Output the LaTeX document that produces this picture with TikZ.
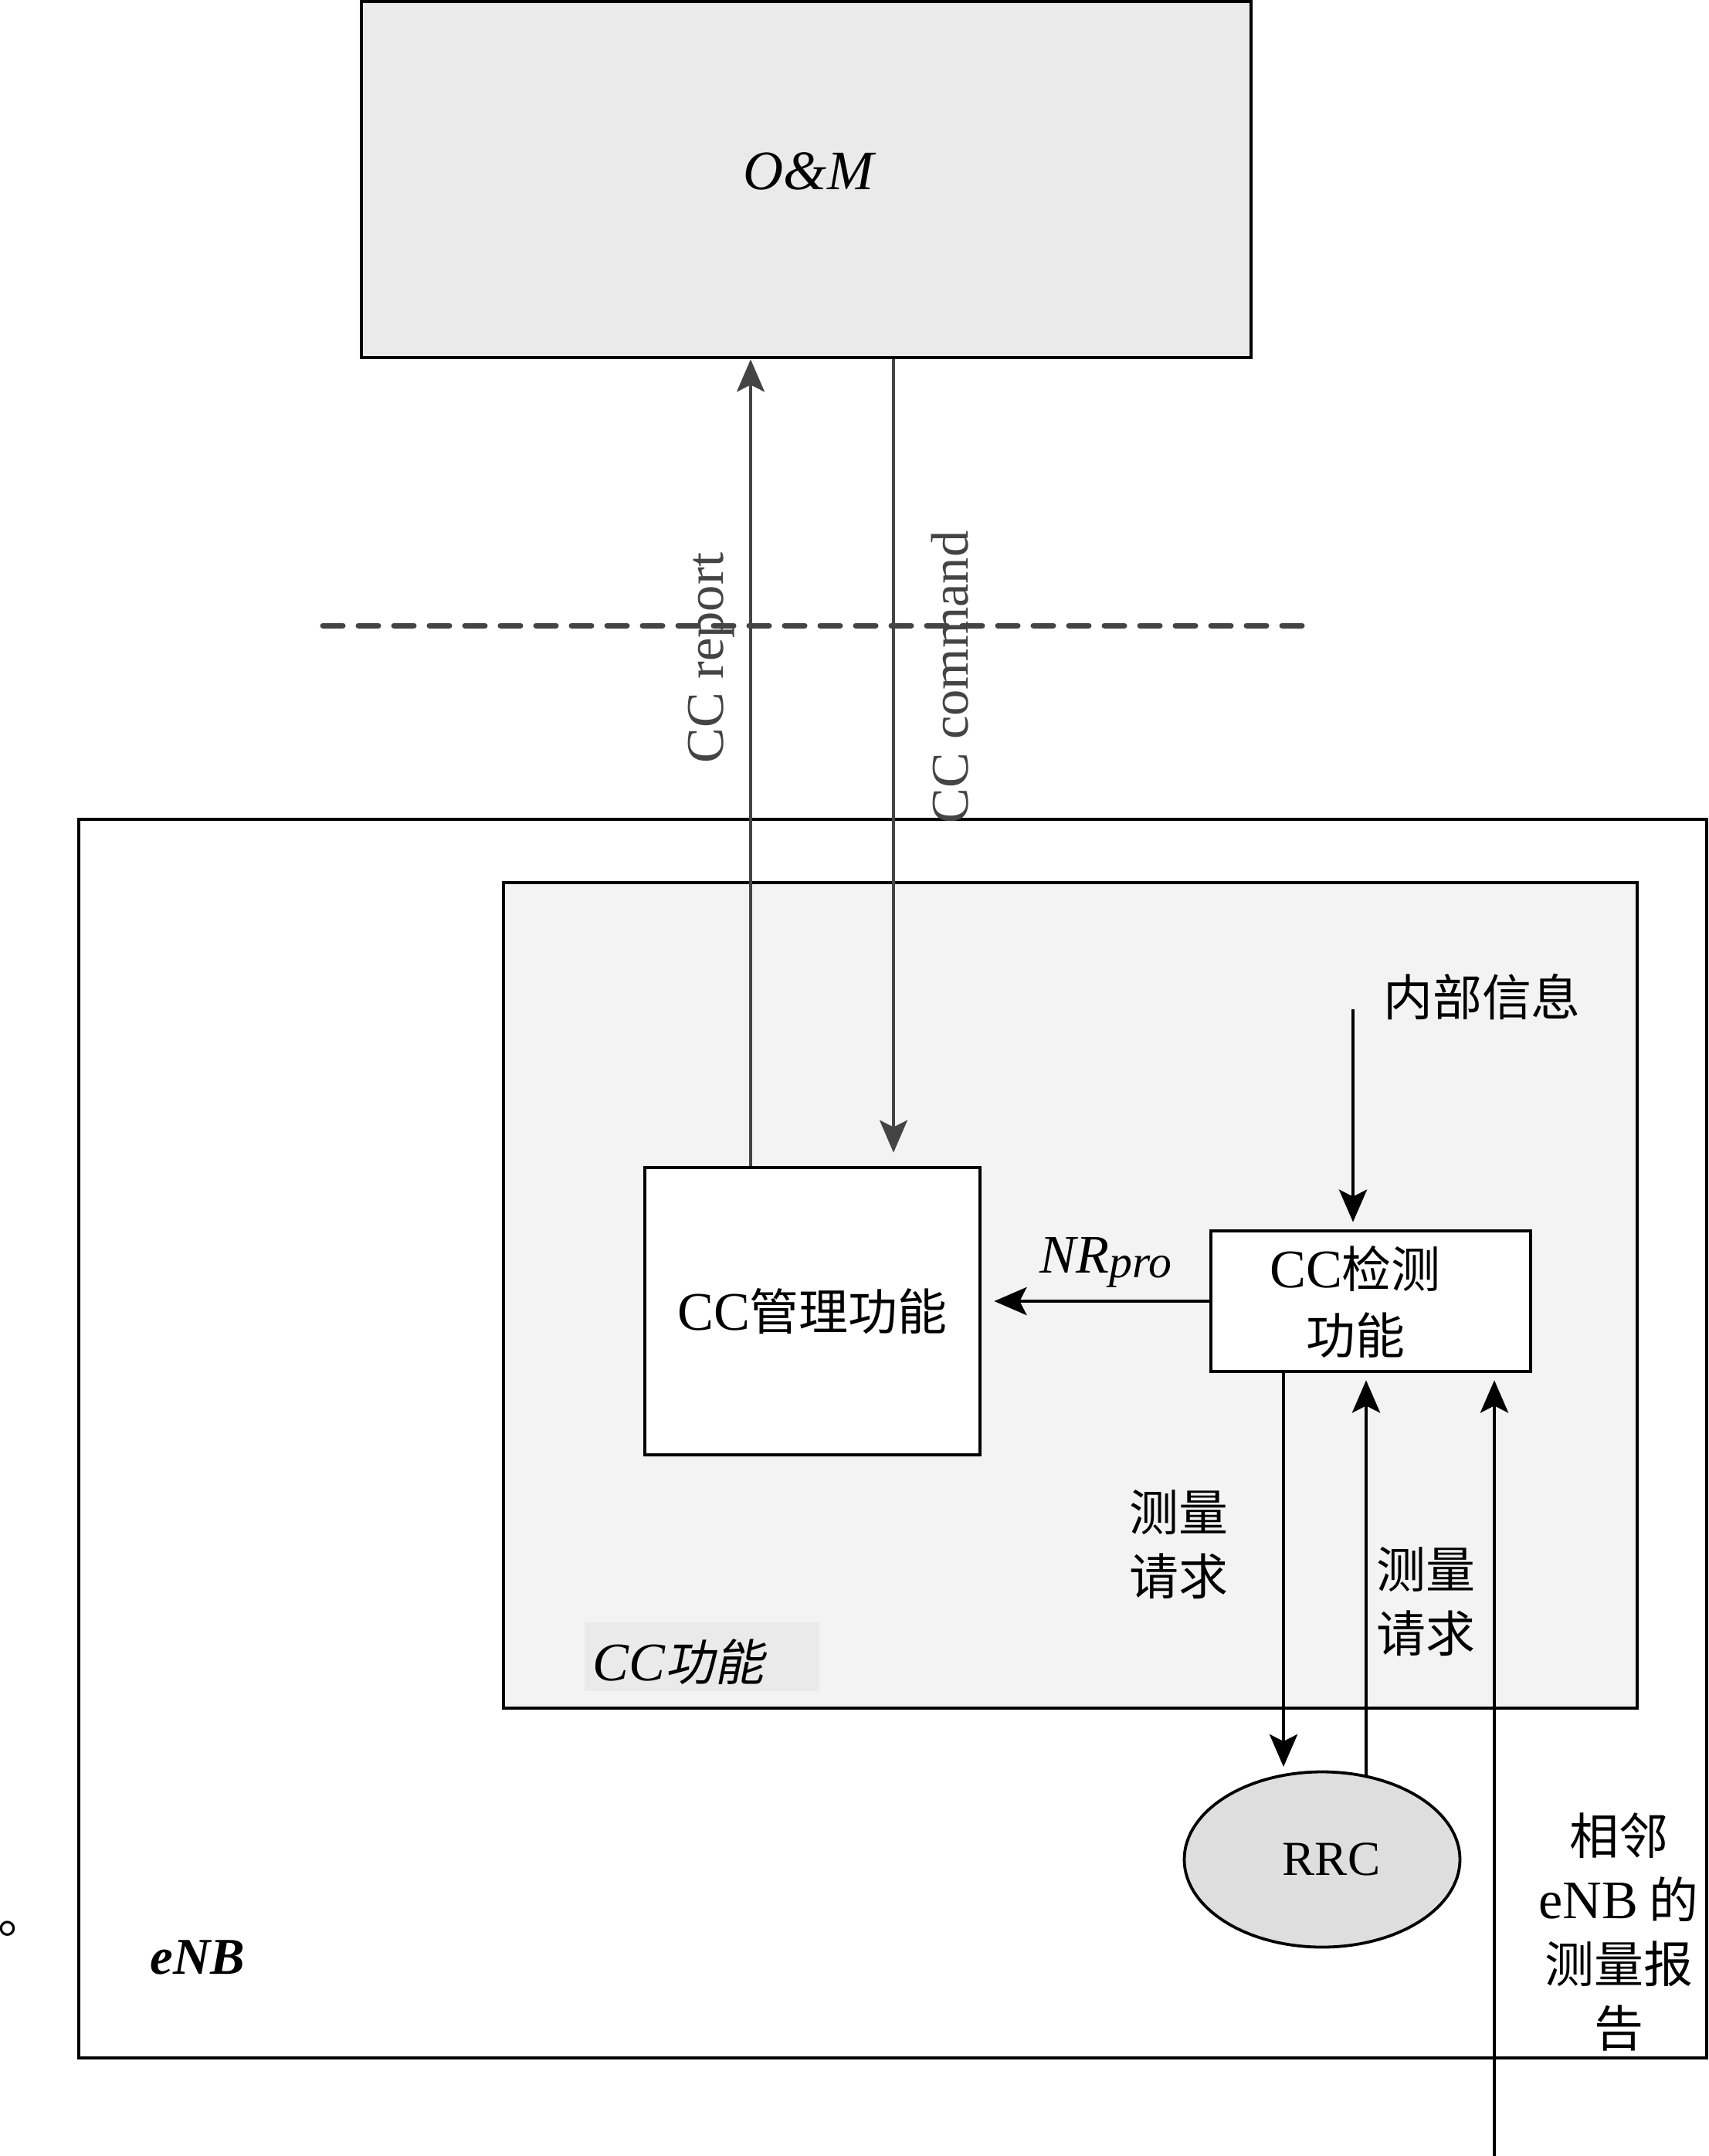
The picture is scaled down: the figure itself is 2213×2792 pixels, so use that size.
\documentclass[tikz,border=0pt]{standalone}
\usepackage{fontspec}
\setmainfont{Liberation Serif}
\newfontfamily\cjk{Noto Sans CJK SC}
\newfontfamily\cjkit{Noto Sans CJK SC}[FakeSlant=0.2]
\usetikzlibrary{arrows.meta,shapes.geometric}
\definecolor{omgray}{HTML}{EAEAEA}
\definecolor{ccgray}{HTML}{F3F3F3}
\definecolor{labgray}{HTML}{EAEAEA}
\definecolor{rrcgray}{HTML}{DEDEDE}
\definecolor{linegray}{HTML}{444444}
\newcommand\zhtxt[1]{{\cjk\fontsize{18.2pt}{23.6pt}\selectfont #1}}
\newcommand\zhit[1]{{\cjkit\fontsize{18.2pt}{23.6pt}\selectfont #1}}
\begin{document}
\begin{tikzpicture}[x=0.1mm,y=-0.1mm,
  font=\fontsize{20pt}{24pt}\selectfont,
  box/.style={draw, line width=0.48mm, inner sep=0pt},
  arr/.style={-{Stealth[length=4.2mm,width=3.6mm,inset=0.9mm]}, line width=0.48mm},
  garr/.style={arr, draw=linegray, line width=0.35mm},
  dashline/.style={draw=linegray, line width=0.7mm, line cap=round, dash pattern=on 2.6mm off 2mm},
  zhml/.style={align=center, font=\cjk\fontsize{18.2pt}{23.6pt}\selectfont},
  rotlab/.style={rotate=90, anchor=base, text=linegray, font=\fontsize{19.5pt}{24pt}\selectfont}
]
\useasboundingbox (0,0) rectangle (2213,2792);
% boxes
\node[box, fill=white, minimum width=210.8mm, minimum height=160.4mm] (enb) at (1156,1863) {};
\node[box, fill=ccgray, minimum width=146.8mm, minimum height=106.9mm] (ccf) at (1386,1677.5) {};
\node[fill=labgray, minimum width=30.4mm, minimum height=8.9mm, inner sep=0pt] (ccflab) at (909,2145.5) {};
\node[anchor=west, inner sep=0pt, font=\itshape\fontsize{20pt}{24pt}\selectfont] (ccft) at (767,2152) {CC\zhit{功能}};
\node[box, fill=omgray, minimum width=115.2mm, minimum height=46.1mm] (om) at (1044,232.5) {};
\node[font=\itshape\fontsize{20.5pt}{24pt}\selectfont] (omt) at (1047,222) {O\&M};
\node[box, fill=white, minimum width=43.4mm, minimum height=37.2mm] (mgmt) at (1052,1698) {CC\zhtxt{管理功能}};
\node[box, fill=white, minimum width=41.4mm, minimum height=18.2mm] (det) at (1775,1685) {};
\node[align=center, font=\fontsize{20pt}{24.2pt}\selectfont] (dett) at (1755,1686) {CC\zhtxt{检测}\\\zhtxt{功能}};
\node[draw, ellipse, line width=0.38mm, fill=rrcgray, minimum width=35.7mm, minimum height=22.7mm, inner sep=0pt, font=\fontsize{18pt}{22pt}\selectfont] (rrc) at (1712,2408) {\hspace*{2.4mm}RRC};
% coordinates
\coordinate (xrep) at (972,0);
\coordinate (xcmd) at (1157,0);
\coordinate (intop) at (1752,1307);
\coordinate (xreq) at (1662,0);
\coordinate (reqend) at (1662,2288);
\coordinate (rrcup) at (1769,2300);
\coordinate (nbr) at (1935,2792);
\coordinate (dashL) at (418,810);
\coordinate (dashR) at (1691,810);
% connectors
\draw[garr] (mgmt.north -| xrep) -- (om.south -| xrep);
\draw[garr, shorten >=1.7mm] (om.south -| xcmd) -- (mgmt.north -| xcmd);
\draw[dashline] (dashL) -- (dashR);
\draw[arr, shorten >=0.9mm] (intop) -- (det.north -| intop);
\draw[arr, shorten >=1.6mm] (det.west) -- (det.west -| mgmt.east);
\draw[arr] (det.south -| xreq) -- (reqend);
\draw[arr, shorten >=0.9mm] (rrcup) -- (det.south -| rrcup);
\draw[arr, shorten >=0.9mm] (nbr) -- (det.south -| nbr);
% labels
\node[rotlab] (rep) at (936,852) {CC report};
\node[rotlab] (cmd) at (1253,877) {CC command};
\node (nr) at (1432,1635) {\itshape NR\raisebox{-0.2ex}{\fontsize{17pt}{20pt}\selectfont pro}};
\node (inner) at (1919,1291) {\zhtxt{内部信息}};
\node[zhml] (req1) at (1526,2000) {测量\\请求};
\node[zhml] (req2) at (1846,2074) {测量\\请求};
\node[zhml] (nbrt) at (2096,2502) {相邻\\{\rmfamily\fontsize{20pt}{23.6pt}\selectfont eNB} 的\\测量报\\告};
\node[font=\bfseries\itshape\fontsize{19pt}{22pt}\selectfont] (enbt) at (256,2535) {eNB};
\node[anchor=base west, inner sep=0pt] (dot) at (-3,2503) {\zhtxt{。}};
\end{tikzpicture}
\end{document}
